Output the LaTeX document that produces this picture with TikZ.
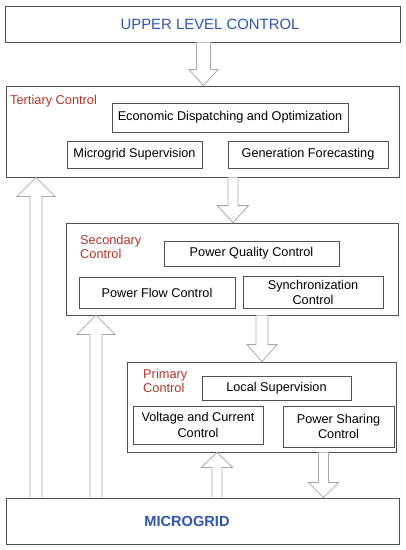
\documentclass[tikz,border=0pt]{standalone}
\usepackage{fontspec}
\setmainfont{Liberation Sans}
\usetikzlibrary{calc}
\definecolor{boxline}{HTML}{505050}
\definecolor{arrline}{HTML}{A8A8A8}
\definecolor{topblue}{HTML}{2F55B0}
\definecolor{lvlred}{HTML}{B0362C}
\tikzset{
  frame/.style={draw=boxline, line width=0.8pt, fill=white, rectangle, inner sep=0pt},
  taskbox/.style={frame, align=center, font=\fontsize{12.7}{15.5}\selectfont},
  lvllabel/.style={anchor=west, align=left, text=lvlred, inner sep=0pt, font=\fontsize{12.8}{14.5}\selectfont},
  blockarrow/.style={draw=arrline, line width=0.8pt, fill=white, line join=miter}
}
% #1 x, #2 from, #3 to (tip), #4 shaft half width, #5 head half width, #6 head length, #7 dir (1 down, -1 up)
\newcommand{\barrow}[7]{%
  \draw[blockarrow] let \p1=(#2), \p2=(#3) in
    ({#1pt-#4pt},\y1) -- ({#1pt-#4pt},{\y2+#7*#6pt}) -- ({#1pt-#5pt},{\y2+#7*#6pt})
    -- (#1pt,\y2) -- ({#1pt+#5pt},{\y2+#7*#6pt}) -- ({#1pt+#4pt},{\y2+#7*#6pt}) -- ({#1pt+#4pt},\y1);}
\begin{document}
\begin{tikzpicture}[x=1pt,y=-1pt]
\useasboundingbox (0,0) rectangle (406,550);
% main level boxes
\node[frame, minimum width=395pt, minimum height=36pt] (upper) at (202.5,24) {};
\node[text=topblue, font=\fontsize{14.9}{17}\selectfont] (uppertxt) at (210,24) {UPPER LEVEL CONTROL};
\node[frame, minimum width=393pt, minimum height=91pt] (tert) at (202.5,131.5) {};
\node[frame, minimum width=332pt, minimum height=92pt] (sec) at (232,269) {};
\node[frame, minimum width=269pt, minimum height=90pt] (prim) at (261.5,407) {};
\node[frame, minimum width=393pt, minimum height=46pt] (micro) at (202.5,521) {};
\node[text=topblue, font=\fontsize{14.6}{16}\selectfont\bfseries] (microtxt) at (187,521) {MICROGRID};
% level labels
\node[lvllabel] (tertlbl) at (10,101) {Tertiary Control};
\node[lvllabel] (seclbl) at (80,247) {Secondary\\Control};
\node[lvllabel] (primlbl) at (143,381) {Primary\\Control};
% task boxes
\node[taskbox, minimum width=236pt, minimum height=29pt] (edo) at (230,117.5) {Economic Dispatching and Optimization};
\node[taskbox, minimum width=135pt, minimum height=27pt] (ms) at (134.5,154.5) {Microgrid Supervision};
\node[taskbox, minimum width=160pt, minimum height=27pt] (gf) at (308,154.5) {Generation Forecasting};
\node[taskbox, minimum width=175pt, minimum height=25pt] (pqc) at (251.5,253.5) {Power Quality Control};
\node[taskbox, minimum width=156pt, minimum height=31pt] (pfc) at (157,293) {Power Flow Control};
\node[taskbox, minimum width=140pt, minimum height=32pt] (sync) at (313,292.5) {Synchronization\\Control};
\node[taskbox, minimum width=149pt, minimum height=24pt] (ls) at (276.5,388) {Local Supervision};
\node[taskbox, minimum width=130pt, minimum height=38pt] (vcc) at (198,425) {Voltage and Current\\Control};
\node[taskbox, minimum width=111pt, minimum height=41pt] (psc) at (338.5,426.5) {Power Sharing\\Control};
% block arrows
\barrow{203.5}{upper.south}{tert.north}{7}{14.5}{16}{1}
\barrow{233}{tert.south}{sec.north}{5}{15.5}{17}{1}
\barrow{262}{sec.south}{prim.north}{6}{15}{17}{1}
\barrow{323.5}{prim.south}{micro.north}{5}{15}{15}{1}
\barrow{36}{micro.north}{tert.south}{6}{19}{19}{-1}
\barrow{96}{micro.north}{sec.south}{6}{19}{19}{-1}
\barrow{217}{micro.north}{prim.south}{5}{15.5}{15}{-1}
\end{tikzpicture}
\end{document}
